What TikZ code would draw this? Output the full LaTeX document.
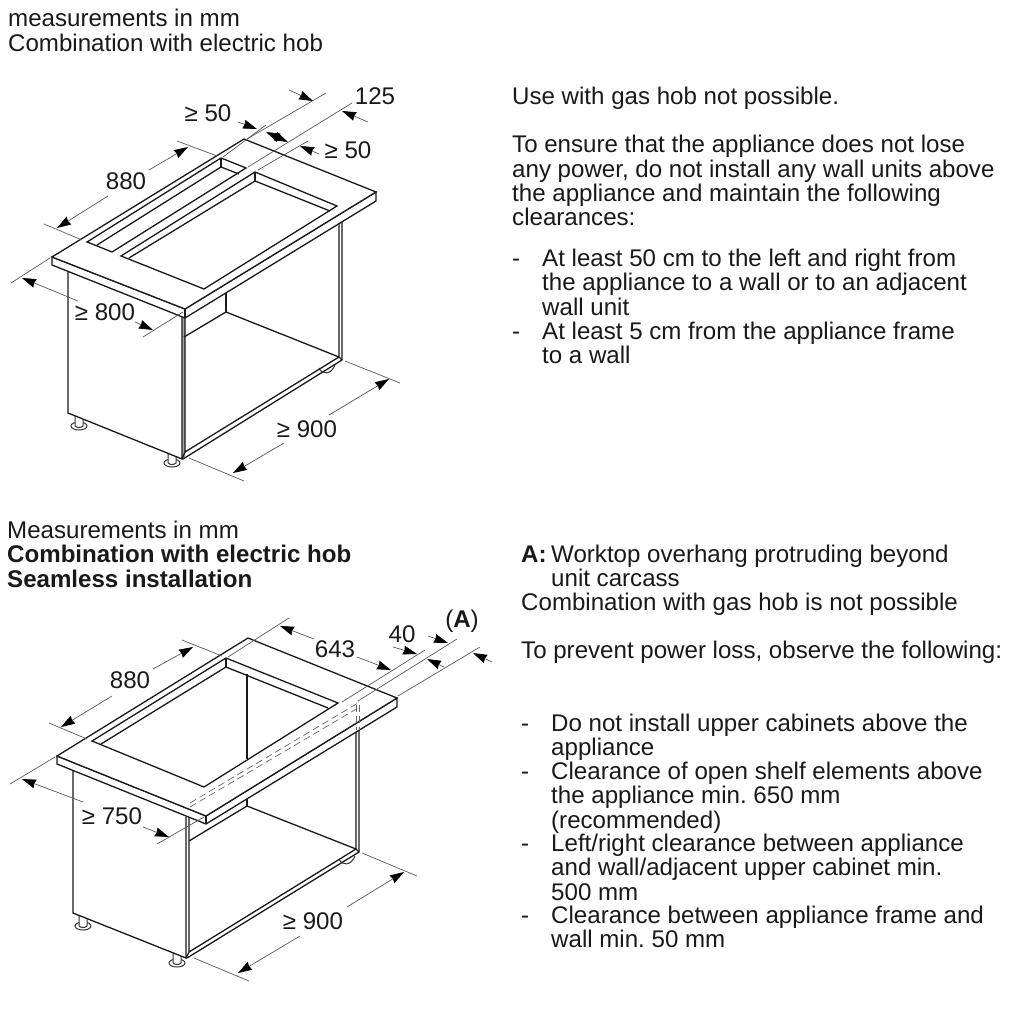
\documentclass[tikz,border=0pt]{standalone}
\usepackage{fontspec}
\setmainfont{Liberation Sans}
\usetikzlibrary{arrows.meta}
\newcommand{\firstline}{\rule{0pt}{17pt}}
\newcommand{\cabfoot}[2]{
    \draw[line width=1pt,black!80,fill=white] (#1,#2) ellipse (8 and 4);
    \draw[line width=1pt,black!80,fill=white] (#1-4,#2-13)--(#1-4,#2) .. controls (#1-2,#2+2) and (#1+2,#2+2) .. (#1+4,#2)--(#1+4,#2-13);
}
\tikzset{
    txt/.style={anchor=north west,inner sep=0pt,align=left,text=black!90,font=\fontsize{24.1}{24.3}\selectfont},
    lab/.style={inner sep=0pt,text=black!90,font=\fontsize{24.1}{24}\selectfont},
    body/.style={line width=1.3pt,line join=miter,black!90},
    ext/.style={line width=0.7pt,black!65},
    dim/.style={line width=0.7pt,black!65,-{Stealth[length=14pt,width=9pt,inset=1pt,black]}},
    dimboth/.style={line width=0.7pt,black!65,{Stealth[length=14pt,width=9pt,inset=1pt,black]}-{Stealth[length=14pt,width=9pt,inset=1pt,black]}},
    top/.style={body,fill=white},
    hidden/.style={line width=0.7pt,black!60,dash pattern=on 7pt off 4pt},
}
\begin{document}
\frenchspacing
\begin{tikzpicture}[x=1pt,y=-1pt]
    \useasboundingbox[fill=white] (0,0) rectangle (1024,1024);

    % upper cabinet
    \cabfoot{79}{426}
    \cabfoot{172}{463}
    \draw[line width=1pt,black!80] (319,368) .. controls (322,375) and (331,375) .. (335,365);
    \fill[black!35] (182,318)--(185,318)--(185,458)--(182,459)--cycle;
    \draw[body,fill=white] (68,265)--(68,413)--(182,459)--(182,316);
    \draw[body] (185,318)--(185,452)--(339,357)--(339,220);
    \draw[body] (183,459)--(342,360)--(342,220);
    \draw[body] (185,452)--(182,459);
    \draw[body] (339,357)--(342,360);
    \draw[body] (184,337)--(226,312)--(339,357);
    \draw[body] (226,290)--(226,312);
    \draw[top] (52,257)--(52,265)--(185,318)--(376,201)--(376,192)--(185,309)--cycle;
    \draw[top] (52,257)--(244,139)--(376,192)--(185,309)--cycle;
    \draw[body] (185,309)--(185,318);
    \draw[body] (87,242)--(221,158)--(246,168)--(112,252)--cycle;
    \draw[body] (97,245)--(221,167)--(239,174);
    \draw[body] (221,158)--(221,167);
    \draw[body] (121,256)--(255,172)--(337,206)--(204,289)--cycle;
    \draw[body] (129,258)--(255,181)--(330,211);
    \draw[body] (255,172)--(255,181);

    % upper dimensions
    \draw[ext] (177,141)--(217,156);
    \draw[ext] (44,224)--(82,240);
    \draw[dim] (149,170)--(188,147);
    \draw[dim] (108,196)--(57,228);
    \draw[ext] (11,283)--(50,258);
    \draw[ext] (143,337)--(183,312);
    \draw[dim] (78,301)--(22,278);
    \draw[dim] (135,322)--(153,330);
    \draw[ext] (189,458)--(244,481);
    \draw[ext] (345,361)--(400,383);
    \draw[dim] (284,443)--(233,473);
    \draw[dim] (329,415)--(389,379);
    \draw[ext] (223,157)--(266,125);
    \draw[dim] (238,122)--(257,129);
    \draw[ext] (247,139)--(326,93);
    \draw[dim] (289,90)--(313,101);
    \draw[ext] (248,167)--(352,103);
    \draw[dim] (368,122)--(342,111);
    \draw[dimboth] (266,132)--(288,142);
    \draw[ext] (258,170)--(308,141);
    \draw[dim] (319,154)--(300,146);

    \node[lab] (dimHob) at (126,181) {880};
    \node[lab] (dimDepth) at (105,312) {≥ 800};
    \node[lab] (dimWidth) at (307,429) {≥ 900};
    \node[lab] (dimLeft) at (208,113) {≥ 50};
    \node[lab] (dimVent) at (375,96) {125};
    \node[lab] (dimRight) at (348,150) {≥ 50};

    % lower cabinet
    \cabfoot{83}{926}
    \cabfoot{177}{963}
    \draw[line width=1pt,black!80] (339,859) .. controls (342,866) and (351,866) .. (355,856);
    \draw[body,fill=white] (73,770)--(73,913)--(186,958)--(186,817);
    \draw[body] (189,817)--(189,952)--(356,849)--(356,715);
    \draw[body] (187,958)--(359,852)--(359,715);
    \draw[body] (189,952)--(186,958);
    \draw[body] (356,849)--(359,852);
    \draw[body] (189,841)--(247,806)--(356,849);
    \draw[body] (247,790)--(247,806);
    \draw[top] (57,756)--(57,764)--(206,824)--(397,707)--(397,698)--(206,816)--cycle;
    \draw[top] (57,756)--(248,638)--(397,698)--(206,816)--cycle;
    \draw[body] (206,816)--(206,824);
    \draw[body] (92,741)--(226,658)--(338,703)--(204,787)--cycle;
    \draw[body] (101,744)--(226,667)--(328,708);
    \draw[body] (226,658)--(226,667);
    \draw[body] (247,674)--(247,759);

    % hidden frame
    \draw[hidden] (190,803)--(358,703);
    \draw[hidden] (190,807)--(358,708);
    \draw[hidden] (356,705)--(356,730);
    \draw[hidden] (359,705)--(359,730);

    % lower dimensions
    \draw[ext] (182,640)--(222,656);
    \draw[ext] (49,723)--(87,739);
    \draw[dim] (153,669)--(193,647);
    \draw[dim] (112,696)--(61,727);
    \draw[ext] (10,784)--(55,757);
    \draw[ext] (157,844)--(204,817);
    \draw[dim] (83,802)--(22,779);
    \draw[dim] (143,827)--(169,837);
    \draw[ext] (194,958)--(249,981);
    \draw[ext] (362,853)--(417,876);
    \draw[dim] (300,936)--(238,973);
    \draw[dim] (347,907)--(404,872);
    \draw[ext] (228,657)--(289,618);
    \draw[ext] (342,702)--(425,650);
    \draw[dim] (314,639)--(280,626);
    \draw[dim] (357,657)--(391,670);
    \draw[dim] (393,647)--(417,654);
    \draw[ext] (358,701)--(457,639);
    \draw[dim] (428,636)--(448,643);
    \draw[ext] (398,696)--(480,647);
    \draw[dim] (444,667)--(427,659);
    \draw[dim] (492,662)--(473,653);

    \node[lab] (cutHob) at (130,680) {880};
    \node[lab] (cutDepth) at (112,816) {≥ 750};
    \node[lab] (cutWidth) at (313,921) {≥ 900};
    \node[lab] (cutLen) at (335,649) {643};
    \node[lab] (cutFrame) at (402,634) {40};
    \node[lab] (cutMark) at (462,621) {(\textbf{A})};

    % texts
    \node[txt] (headA) at (8,9) {\firstline measurements in mm\\[0.7pt]Combination with electric hob};
    \node[txt] (noteA) at (512,87) {\firstline Use with gas hob not possible.\\[24pt]To ensure that the appliance does not lose\\any power, do not install any wall units above\\the appliance and maintain the following\\clearances:};
    \node[txt] (dashA) at (512,249) {\firstline -};
    \node[txt] (itemA) at (542,249) {\firstline At least 50 cm to the left and right from\\the appliance to a wall or to an adjacent\\wall unit};
    \node[txt] (dashB) at (512,322) {\firstline -};
    \node[txt] (itemB) at (542,322) {\firstline At least 5 cm from the appliance frame\\to a wall};

    \node[txt] (headB) at (7,521) {\firstline Measurements in mm\\\textbf{Combination with electric hob}\\\textbf{Seamless installation}};
    \node[txt] (markA) at (521,545) {\firstline\textbf{A:}};
    \node[txt] (noteB) at (551,545) {\firstline Worktop overhang protruding beyond\\unit carcass};
    \node[txt] (noteC) at (521,593) {\firstline Combination with gas hob is not possible\\[24pt]To prevent power loss, observe the following:};
    \node[txt] (dashC) at (521,714) {\firstline -};
    \node[txt] (itemC) at (551,714) {\firstline Do not install upper cabinets above the\\appliance};
    \node[txt] (dashD) at (521,762) {\firstline -};
    \node[txt] (itemD) at (551,762) {\firstline Clearance of open shelf elements above\\the appliance min. 650 mm\\(recommended)};
    \node[txt] (dashE) at (521,834) {\firstline -};
    \node[txt] (itemE) at (551,834) {\firstline Left/right clearance between appliance\\and wall/adjacent upper cabinet min.\\500 mm};
    \node[txt] (dashF) at (521,906) {\firstline -};
    \node[txt] (itemF) at (551,906) {\firstline Clearance between appliance frame and\\wall min. 50 mm};
\end{tikzpicture}
\end{document}
